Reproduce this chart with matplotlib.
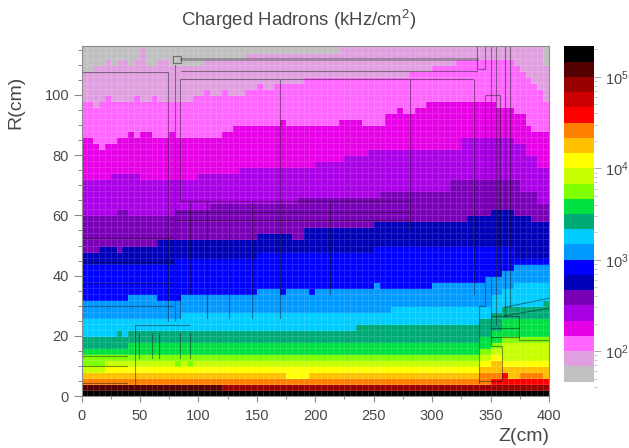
# encoding utf-8
import numpy as np
import matplotlib
matplotlib.use('Agg')
from matplotlib import pyplot as plt
from matplotlib.colors import BoundaryNorm, ListedColormap
from matplotlib.ticker import MultipleLocator, LogLocator, NullFormatter, LogFormatterMathtext

plt.rcParams['font.family'] = ['Liberation Sans', 'DejaVu Sans']
plt.rcParams['mathtext.fontset'] = 'custom'
plt.rcParams['mathtext.rm'] = 'Liberation Sans'
plt.rcParams['mathtext.default'] = 'rm'

# colour scale, high to low
band_colors = ['#000000', '#550000', '#990000', '#cc0000', '#ff0000', '#ff8000', '#ffc000', '#ffff00',
               '#c8ff00', '#80ff00', '#00e040', '#00aa77', '#00ccff', '#0099ff', '#0000ff', '#0000b8',
               '#7a00b8', '#aa00e6', '#e600e6', '#ff66ff', '#e0a0e0', '#c0c0c0']
levels = [46.4, 68.1, 100, 146.8, 215.4, 316.2, 464.2, 681.3, 1000, 1468, 2154, 3162, 4642, 6813,
          10000, 14678, 21544, 31623, 46416, 68129, 100000, 146780, 215443]

z_edges = np.arange(0, 405, 5)
r_edges = np.arange(0, 118, 2)

# band limits: (start of each Z step, R where the next lower band starts)
z0, r0 = [0], [2]
z1, r1 = [0, 120], [4, 2]
z2, r2 = [0], [4]
z3, r3 = [0], [4]
z4, r4 = [0, 350, 360, 365], [4, 6, 8, 6]
z5, r5 = [0, 340, 365, 375, 395], [6, 8, 6, 8, 6]
z6, r6 = [0, 175, 195, 340, 350, 360], [8, 6, 8, 10, 12, 10]
z7, r7 = [0, 20, 340, 350, 360], [8, 10, 12, 14, 12]
z8, r8 = [0, 20, 80, 85, 90, 95, 340, 350, 360], [10, 12, 10, 12, 10, 12, 14, 16, 18]
z9, r9 = [0, 340, 350, 360], [14, 16, 18, 20]
z10, r10 = [0, 40, 340, 350, 360], [16, 18, 20, 22, 26]
z11, r11 = [0, 30, 35, 40, 235, 340, 350, 360, 395], [20, 22, 20, 22, 24, 26, 28, 30, 32]
z12, r12 = [0, 85, 265, 350, 360, 370], [26, 28, 30, 34, 36, 38]
z13 = [0, 40, 65, 85, 150, 170, 175, 195, 200, 250, 255, 300, 345, 360, 370]
r13 = [32, 34, 32, 34, 36, 34, 36, 34, 36, 38, 36, 38, 40, 42, 44]
z14, r14 = [0, 80, 150, 250, 370], [44, 46, 48, 50, 46]
z15 = [0, 15, 30, 35, 65, 150, 180, 190, 250, 330, 350, 370, 385]
r15 = [48, 50, 48, 50, 52, 54, 52, 56, 58, 60, 62, 60, 58]
z16 = [0, 30, 40, 80, 110, 185, 255, 315, 375, 390]
r16 = [60, 62, 60, 62, 64, 66, 68, 72, 68, 64]
z17 = [0, 25, 50, 100, 135, 200, 225, 245, 325, 370, 380, 390]
r17 = [72, 74, 72, 74, 76, 78, 80, 82, 86, 84, 80, 76]
z18 = [0, 10, 15, 20, 30, 40, 45, 50, 60, 75, 80, 120, 130, 170, 175, 220, 240, 258, 270, 275, 283, 297, 355, 370, 380, 385]
r18 = [86, 84, 82, 84, 86, 88, 86, 88, 86, 88, 86, 88, 90, 92, 90, 92, 90, 94, 96, 94, 96, 98, 96, 94, 90, 88]
z19 = [0, 10, 15, 20, 25, 45, 50, 60, 65, 95, 105, 110, 120, 125, 140, 150, 155, 165, 190, 280, 300, 320, 370, 375, 380, 385, 390, 395]
r19 = [98, 96, 98, 100, 98, 100, 98, 100, 98, 100, 102, 100, 102, 100, 102, 104, 102, 104, 106, 108, 110, 112, 110, 108, 106, 104, 102, 98]
z20 = [0, 10, 20, 25, 30, 40, 45, 50, 55, 65, 75, 105, 115, 140, 220, 395]
r20 = [108, 110, 112, 110, 112, 110, 112, 116, 110, 112, 110, 112, 112, 114, 116, 110]

limits = [(z0, r0), (z1, r1), (z2, r2), (z3, r3), (z4, r4), (z5, r5), (z6, r6), (z7, r7), (z8, r8), (z9, r9),
          (z10, r10), (z11, r11), (z12, r12), (z13, r13), (z14, r14), (z15, r15), (z16, r16), (z17, r17),
          (z18, r18), (z19, r19), (z20, r20)]

# detector outlines
outlines = [
    ([0, 74, 74], [107.6, 107.6, 25]), ([80, 80], [110, 25]), ([78, 85, 85, 78, 78], [110.5, 110.5, 113, 113, 110.5]),
    ([85, 338], [108, 108]), ([335, 84, 84, 281], [105.3, 105.3, 64.7, 64.7]), ([80, 281], [61, 61]), ([80, 281], [58.6, 58.6]),
    ([0, 78], [52.5, 52.5]), ([0, 78], [44.7, 44.7]), ([0, 78], [37.5, 37.5]), ([0, 78], [30, 30]),
    ([0, 39], [13.4, 13.4]), ([0, 39], [10.2, 10.2]), ([0, 39], [4.3, 4.3]),
    ([45.7, 45.7, 92], [4, 23.5, 23.5]), ([49, 49], [21, 12.6]), ([60.7, 60.7], [21, 12.6]), ([66, 66], [21, 12.6]),
    ([84.6, 84.6], [21, 12.6]), ([92.6, 92.6], [21, 12.6]), ([84.6, 84.6], [34, 26]), ([92.6, 92.6], [64, 34]),
    ([107, 107], [64, 26]), ([126, 126], [64, 26]), ([146, 146], [64, 26]), ([169.5, 169.5], [105, 26]),
    ([213, 213], [64, 34]), ([281, 281], [105, 55]), ([336, 336], [105, 34]),
    ([340, 340, 345, 345, 358, 358], [4.5, 30, 30, 100, 100, 40]), ([338, 338, 345, 345], [116, 108.4, 108.4, 116]),
    ([350.5, 350.5, 360, 360, 340], [116, 16.7, 16.7, 5, 5]), ([355, 355], [116, 23.7]), ([362, 362], [116, 26.6]),
    ([367, 367], [116, 29.5]), ([362, 400], [29.5, 32.5]), ([362, 400], [26.7, 29.2]),
    ([350.5, 374, 374, 350.5], [22.6, 22.6, 26.6, 26.6]), ([374, 374, 400], [22.6, 18.7, 18.7]), ([350.5, 374], [19.5, 19.5]),
]
band_line_z, band_line_r = [85, 338], [112, 112]

r_mid = (r_edges[:-1] + r_edges[1:]) / 2
z_mid = (z_edges[:-1] + z_edges[1:]) / 2
band = np.zeros((len(r_mid), len(z_mid)), dtype=int)
for zs, rs in limits:
    idx = np.searchsorted(zs, z_mid, side='right') - 1
    band += r_mid[:, None] > np.array(rs)[idx]
mids = np.sqrt(np.array(levels[:-1]) * np.array(levels[1:]))
values = mids[21 - band]

cmap = ListedColormap(band_colors[::-1])
norm = BoundaryNorm(levels, 22)
W, H = 629.0, 448.0
grey = '#8c8c8c'
txt = '#484848'

fig = plt.figure(figsize=(6.29, 4.48), dpi=100)
ax = fig.add_axes([81.5 / W, 1 - 396.3 / H, 467.5 / W, 349.8 / H])
ax.pcolormesh(z_edges, r_edges, values, cmap=cmap, norm=norm, edgecolors=(1, 1, 1, 0.14), linewidth=0.6)
ax.plot(band_line_z, band_line_r, color='#666666', alpha=0.55, lw=2)
for xs, ys in outlines:
    ax.plot(xs, ys, color='#101010', alpha=0.45, lw=0.8)
ax.set_xlim(0, 400)
ax.set_ylim(0, 116)
ax.xaxis.set_major_locator(MultipleLocator(50))
ax.xaxis.set_minor_locator(MultipleLocator(25))
ax.yaxis.set_major_locator(MultipleLocator(20))
ax.yaxis.set_minor_locator(MultipleLocator(5))
ax.tick_params(which='major', length=6, width=0.8, color=grey, labelsize=10.5, labelcolor=txt)
ax.tick_params(which='minor', length=3, width=0.7, color=grey)
ax.tick_params(axis='x', which='major', length=4, pad=5)
ax.tick_params(axis='x', which='minor', length=2.5)
ax.tick_params(axis='y', which='major', pad=3)
for s in ax.spines.values():
    s.set_color(grey)
fig.text(549 / W, 1 - 436 / H, 'Z(cm)', ha='right', va='center', fontsize=14, color=txt)
fig.text(16 / W, 1 - 129 / H, 'R(cm)', rotation=90, ha='center', va='bottom', fontsize=14, color=txt)
fig.text(299 / W, 1 - 20 / H, 'Charged Hadrons (kHz/cm$^2$)', ha='center', va='center', fontsize=13.4, color=txt)

cax = fig.add_axes([564 / W, 1 - 396.3 / H, 30 / W, 349.8 / H])
cax.pcolormesh([0, 1], levels, mids[:, None], cmap=cmap, norm=norm)
cax.set_yscale('log')
cax.set_ylim(32, 215443)
cax.set_xticks([])
cax.yaxis.tick_right()
cax.yaxis.set_major_locator(LogLocator(10))
cax.yaxis.set_major_formatter(LogFormatterMathtext())
cax.yaxis.set_minor_locator(LogLocator(10, subs=range(2, 10)))
cax.yaxis.set_minor_formatter(NullFormatter())
cax.tick_params(which='major', length=5, width=0.7, color='#aaaaaa', labelsize=10.5, labelcolor=txt, pad=3)
cax.tick_params(which='minor', length=2.5, width=0.5, color='#aaaaaa')
for s in cax.spines.values():
    s.set_visible(False)

fig.savefig('out.png', dpi=100)
